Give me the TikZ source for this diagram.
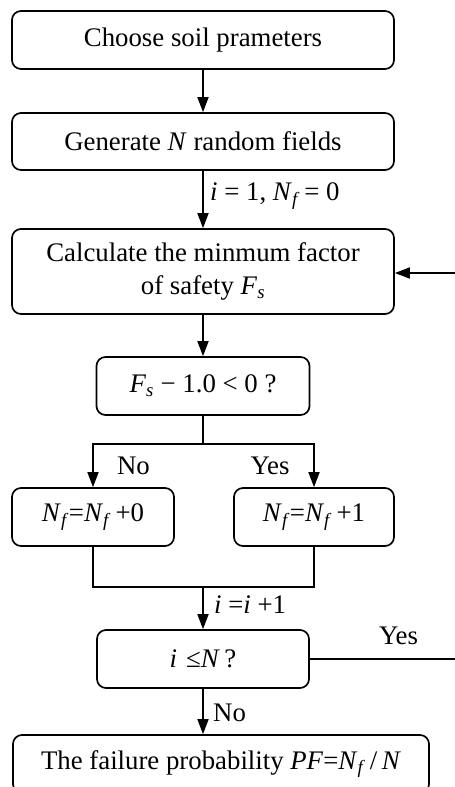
\documentclass[tikz,border=0pt]{standalone}
\usepackage{fontspec}
\setmainfont{Liberation Serif}
\usetikzlibrary{arrows.meta}
\begin{document}
\begin{tikzpicture}[x=1pt,y=-1pt,
  box/.style={draw, line width=1.7pt, rounded corners=9pt, align=center, inner sep=0pt},
  arr/.style={line width=1.7pt, -{Triangle[length=15pt,width=11pt]}},
  ln/.style={line width=1.7pt},
  lab/.style={inner sep=0pt},
  every node/.append style={font=\fontsize{26.8}{33}\selectfont}]
\useasboundingbox (0,0) rectangle (455,787);
\clip (0,0) rectangle (455,787);
\node[box, minimum width=382pt, minimum height=58pt] (b1) at (203,40) {Choose soil prameters};
\node[box, minimum width=382pt, minimum height=57pt] (b2) at (203,141.5) {Generate \textit{N} random fields};
\node[box, minimum width=382pt, minimum height=85pt] (b3) at (203,271.5) {Calculate the minmum factor\\ of safety \textit{F}\textsubscript{\textit{s}}};
\node[box, minimum width=213pt, minimum height=58pt] (b4) at (203,386) {\textit{F}\textsubscript{\textit{s}} − 1.0 < 0 ?};
\node[box, minimum width=162pt, minimum height=58pt] (b5) at (93,517) {\textit{N}\textsubscript{\textit{f}}=\textit{N}\textsubscript{\textit{f}}\,+0};
\node[box, minimum width=160pt, minimum height=58pt] (b6) at (314,517) {\textit{N}\textsubscript{\textit{f}}=\textit{N}\textsubscript{\textit{f}}\,+1};
\node[box, minimum width=212pt, minimum height=58pt] (b7) at (203,659) {\textit{i}\,\,≤\textit{N}\,?};
\node[box, minimum width=416pt, minimum height=58pt] (b8) at (221,764) {The failure probability \textit{PF}=\textit{N}\textsubscript{\textit{f}}\,/\,\textit{N}};
\coordinate (split) at (203,444);
\coordinate (merge) at (203,587);
\coordinate (r1) at (457,659);
\coordinate (r2) at (457,273);
\draw[arr] (b1) -- (b2);
\draw[arr] (b2) -- (b3);
\draw[arr] (b3) -- (b4);
\draw[ln] (b4) -- (split);
\draw[arr] (split) -| (b5);
\draw[arr] (split) -| (b6);
\draw[ln] (b5) |- (merge) -| (b6);
\draw[arr] (merge) -- (b7);
\draw[arr] (b7) -- (b7 |- b8.north);
\draw[ln] (b7) -- (r1);
\draw[arr] (r2) -- (b3.east |- r2);
\node[lab, anchor=west] (l1) at (210,196) {\textit{i} = 1, \textit{N}\textsubscript{\textit{f}}\,= 0};
\node[lab] (l2) at (133.5,466) {No};
\node[lab] (l3) at (270,466) {Yes};
\node[lab, anchor=west] (l4) at (214,605) {\textit{i} =\textit{i} +1};
\node[lab] (l5) at (398.5,636) {Yes};
\node[lab, anchor=west] (l6) at (213,713) {No};
\end{tikzpicture}
\end{document}
